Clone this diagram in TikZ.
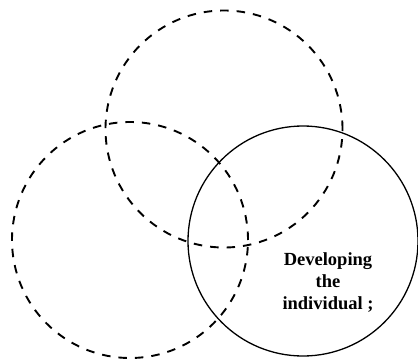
\documentclass[tikz,border=0pt]{standalone}
\usepackage{fontspec}
\setmainfont{Liberation Serif}
\begin{document}
\begin{tikzpicture}[x=1pt,y=-1pt,
  ring/.style={circle, draw, inner sep=0pt, line width=1.3pt},
  dashring/.style={ring, line width=1.9pt, dash pattern=on 8.5pt off 8pt},
  tagtext/.style={font=\bfseries\fontsize{18.5}{22}\selectfont, align=center, inner sep=0pt}]
\useasboundingbox (0,0) rectangle (418,361);
% two dashed circles and the solid one
\node[dashring, minimum size=237pt] (upper) at (224,129) {};
\node[dashring, minimum size=236pt] (lower) at (130,240) {};
\node[ring, minimum size=230pt] (self) at (303,241) {};
% caption inside the solid circle
\node[tagtext] (txt) at (328,283) {Developing\\the\\individual ;};
\end{tikzpicture}
\end{document}
